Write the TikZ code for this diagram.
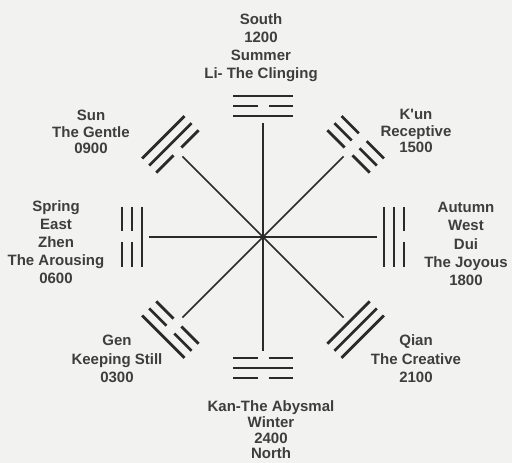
\documentclass[tikz,border=0pt]{standalone}
\usepackage{fontspec}
\setmainfont{Liberation Sans}
\definecolor{bg}{RGB}{242,242,240}
\definecolor{ink}{RGB}{42,42,42}
\definecolor{txt}{RGB}{62,62,62}
% trigram: angle, inner, middle, outer (1 = solid, 0 = broken)
\newcommand\trigram[4]{%
  \begin{scope}[rotate=#1]
    \foreach \r/\k in {121/#2,131/#3,141/#4}{%
      \ifnum\k=1
        \draw[tri] (\r,-30) -- (\r,30);
      \else
        \draw[tri] (\r,-30) -- (\r,-5.5) (\r,5.5) -- (\r,30);
      \fi
    }
  \end{scope}}
\begin{document}
\begin{tikzpicture}[x=1pt,y=1pt,
  conn/.style={draw=ink,line width=1.7pt},
  tri/.style={draw=ink,line width=2.7pt},
  lab/.style={text=txt,font=\bfseries\fontsize{15}{18}\selectfont,align=center,inner sep=0pt}]
\fill[bg] (0,0) rectangle (512,463);
\useasboundingbox (0,0) rectangle (512,463);
\begin{scope}[shift={(263,226)}]
  \coordinate (c) at (0,0);
  \foreach \a in {0,45,...,315} \coordinate (e\a) at (\a:114);
  \foreach \a in {0,45,...,315} \draw[conn] (c) -- (e\a);
  \trigram{90}{1}{0}{1}   % Li
  \trigram{45}{0}{0}{0}   % K'un
  \trigram{0}{1}{1}{0}    % Dui
  \trigram{-45}{1}{1}{1}  % Qian
  \trigram{-90}{0}{1}{0}  % Kan
  \trigram{-135}{0}{0}{1} % Gen
  \trigram{180}{1}{0}{0}  % Zhen
  \trigram{135}{0}{1}{1}  % Sun
\end{scope}
\node[lab] (south) at (261,415) {South\\1200\\Summer\\Li- The Clinging};
\node[lab,font=\bfseries\fontsize{15}{16.5}\selectfont] (sun) at (91,331) {Sun\\The Gentle\\0900};
\node[lab,font=\bfseries\fontsize{15}{16.5}\selectfont] (kun) at (416,332) {K\textquotesingle un\\Receptive\\1500};
\node[lab] (east) at (56,221) {Spring\\East\\Zhen\\The Arousing\\0600};
\node[lab,font=\bfseries\fontsize{15}{18.3}\selectfont] (west) at (466,219) {Autumn\\West\\Dui\\The Joyous\\1800};
\node[lab,font=\bfseries\fontsize{15}{18.5}\selectfont] (gen) at (117,104) {Gen\\Keeping Still\\0300};
\node[lab,font=\bfseries\fontsize{15}{18.5}\selectfont] (qian) at (416,104) {Qian\\The Creative\\2100};
\node[lab,font=\bfseries\fontsize{15}{15.7}\selectfont] (north) at (271,33) {Kan-The Abysmal\\Winter\\2400\\North};
\end{tikzpicture}
\end{document}
